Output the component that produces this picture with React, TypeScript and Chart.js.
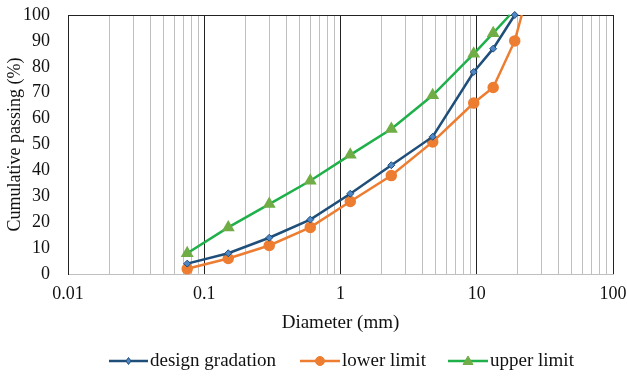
import React, { useEffect, useRef } from "react";
import { Chart, registerables } from "chart.js";

Chart.register(...registerables);

// ---- data ----
const DESIGN_SIZES = [0.075, 0.15, 0.3, 0.6, 1.18, 2.36, 4.75, 9.5, 13.2, 19];
const DESIGN_VALUES = [4, 8, 14, 21, 31, 42, 53, 78, 87, 100];
const LOWER_SIZES = [0.075, 0.15, 0.3, 0.6, 1.18, 2.36, 4.75, 9.5, 13.2, 19, 21.4];
const LOWER_VALUES = [2, 6, 11, 18, 28, 38, 51, 66, 72, 90, 100];
const UPPER_SIZES = [0.075, 0.15, 0.3, 0.6, 1.18, 2.36, 4.75, 9.5, 13.2, 17.5];
const UPPER_VALUES = [8, 18, 27, 36, 46, 56, 69, 85, 93, 100];

const SERIES_NAMES = ["design gradation", "lower limit", "upper limit"];
const MAJOR_TICKS = [0.01, 0.1, 1, 10, 100];
const MAJOR_TICK_LABELS = ["0.01", "0.1", "1", "10", "100"];
const MINOR_MULTIPLIERS = [2, 3, 4, 5, 6, 7, 8, 9];

const FONT = "'Liberation Serif', 'Times New Roman', serif";

const BLUE = "#1f4e79";
const ORANGE = "#ed7d31";
const GREEN = "#1fb04a";

function buildTickValues(): number[] {
  const vals: number[] = [];
  for (let i = 0; i < MAJOR_TICKS.length; i++) {
    vals.push(MAJOR_TICKS[i]);
    if (i < MAJOR_TICKS.length - 1) {
      for (const m of MINOR_MULTIPLIERS) vals.push(parseFloat((MAJOR_TICKS[i] * m).toPrecision(6)));
    }
  }
  return vals;
}

function isMajor(v: number) {
  return MAJOR_TICKS.some((m) => Math.abs(Math.log10(v) - Math.log10(m)) < 1e-6);
}

const legendItems = [
  { x1: 109, x2: 148, tx: 150 },
  { x1: 300, x2: 340, tx: 342 },
  { x1: 448, x2: 488, tx: 490 },
];

const customLegend = {
  id: "customLegend",
  afterDraw(chart: any) {
    const ctx = chart.ctx;
    const y = 361;
    ctx.save();
    chart.data.datasets.forEach((ds: any, i: number) => {
      const it = legendItems[i];
      ctx.strokeStyle = ds.borderColor;
      ctx.lineWidth = 2.5;
      ctx.beginPath();
      ctx.moveTo(it.x1, y);
      ctx.lineTo(it.x2, y);
      ctx.stroke();
      const mx = (it.x1 + it.x2) / 2;
      const r = i === 0 ? 2.5 : i === 1 ? 4.5 : 5;
      ctx.fillStyle = ds.pointBackgroundColor;
      ctx.strokeStyle = ds.pointBorderColor;
      ctx.lineWidth = 1;
      ctx.beginPath();
      if (i === 0) {
        ctx.moveTo(mx, y - r - 1);
        ctx.lineTo(mx + r, y);
        ctx.lineTo(mx, y + r + 1);
        ctx.lineTo(mx - r, y);
        ctx.closePath();
      } else if (i === 1) {
        ctx.arc(mx, y, r, 0, Math.PI * 2);
      } else {
        ctx.moveTo(mx, y - r);
        ctx.lineTo(mx + r, y + r * 0.7);
        ctx.lineTo(mx - r, y + r * 0.7);
        ctx.closePath();
      }
      ctx.fill();
      ctx.stroke();
      ctx.fillStyle = "#111";
      ctx.font = `19px ${FONT}`;
      ctx.textAlign = "left";
      ctx.textBaseline = "middle";
      ctx.fillText(SERIES_NAMES[i], it.tx, y);
    });
    ctx.restore();
  },
};

export default function App() {
  const canvasRef = useRef<HTMLCanvasElement | null>(null);

  useEffect(() => {
    if (!canvasRef.current) return;
    const tickValues = buildTickValues();
    const chart = new Chart(canvasRef.current, {
      type: "line",
      data: {
        datasets: [
          {
            label: SERIES_NAMES[0],
            data: DESIGN_SIZES.map((x, i) => ({ x, y: DESIGN_VALUES[i] })),
            borderColor: BLUE,
            backgroundColor: BLUE,
            borderWidth: 2.5,
            pointStyle: "rectRot",
            pointRadius: 3.5,
            pointBackgroundColor: "#4f86c6",
            pointBorderColor: BLUE,
            pointBorderWidth: 1,
            clip: false,
            tension: 0,
          },
          {
            label: SERIES_NAMES[1],
            data: LOWER_SIZES.map((x, i) => ({ x, y: LOWER_VALUES[i] })),
            borderColor: ORANGE,
            backgroundColor: ORANGE,
            borderWidth: 2.5,
            pointStyle: "circle",
            pointRadius: LOWER_SIZES.map((_, i) => (i === LOWER_SIZES.length - 1 ? 0 : 4.5)),
            pointBackgroundColor: ORANGE,
            pointBorderColor: ORANGE,
            clip: false,
            tension: 0,
          },
          {
            label: SERIES_NAMES[2],
            data: UPPER_SIZES.map((x, i) => ({ x, y: UPPER_VALUES[i] })),
            borderColor: GREEN,
            backgroundColor: GREEN,
            borderWidth: 2.5,
            pointStyle: "triangle",
            pointRadius: UPPER_SIZES.map((_, i) => (i === UPPER_SIZES.length - 1 ? 0 : 5)),
            pointBackgroundColor: "#70ad47",
            pointBorderColor: "#70ad47",
            clip: false,
            tension: 0,
          },
        ],
      },
      options: {
        animation: false,
        responsive: false,
        maintainAspectRatio: false,
        layout: { padding: { left: 0, top: 15, right: 14, bottom: 40 } },
        plugins: {
          legend: { display: false },
          tooltip: { enabled: false },
        },
        scales: {
          x: {
            type: "logarithmic",
            min: 0.01,
            max: 100,
            afterBuildTicks: (scale: any) => {
              scale.ticks = tickValues.map((v) => ({ value: v, major: isMajor(v) }));
            },
            afterFit: (scale: any) => {
              scale.height = 64;
              scale.paddingLeft = 0;
              scale.paddingRight = 0;
              scale.paddingTop = 0;
              scale.paddingBottom = 0;
            },
            ticks: {
              autoSkip: false,
              maxRotation: 0,
              minRotation: 0,
              padding: 9,
              color: "#111",
              font: { family: FONT, size: 18 },
              callback: (value: any) => {
                const v = Number(value);
                const idx = MAJOR_TICKS.findIndex((m) => Math.abs(Math.log10(v) - Math.log10(m)) < 1e-6);
                return idx >= 0 ? MAJOR_TICK_LABELS[idx] : "";
              },
            },
            grid: {
              drawTicks: false,
              lineWidth: 1,
              color: (ctx: any) => (ctx.tick && isMajor(ctx.tick.value) ? "#222" : "#bfbfbf"),
            },
            border: { display: true, color: "#bfbfbf", width: 1 },
            title: {
              display: true,
              text: "Diameter (mm)",
              color: "#111",
              font: { family: FONT, size: 19 },
              padding: { top: 0, bottom: 4 },
            },
          },
          y: {
            type: "linear",
            min: 0,
            max: 100,
            afterFit: (scale: any) => {
              scale.width = 68;
              scale.paddingLeft = 0;
              scale.paddingRight = 0;
              scale.paddingTop = 0;
              scale.paddingBottom = 0;
            },
            ticks: {
              stepSize: 10,
              autoSkip: false,
              padding: 18,
              color: "#111",
              font: { family: FONT, size: 18 },
            },
            grid: {
              drawTicks: false,
              lineWidth: 1,
              color: (ctx: any) => (ctx.tick && ctx.tick.value === 100 ? "#222" : "rgba(0,0,0,0)"),
            },
            border: { display: true, color: "#222", width: 1 },
            title: {
              display: true,
              text: "Cumulative passing (%)",
              color: "#111",
              font: { family: FONT, size: 18 },
              padding: { top: 4, bottom: 0 },
            },
          },
        },
      },
      plugins: [customLegend],
    });
    return () => chart.destroy();
  }, []);

  return (
    <div style={{ position: "fixed", left: 0, top: 0, width: 627, height: 378, background: "#fff" }}>
      <canvas ref={canvasRef} width={627} height={378} style={{ width: 627, height: 378 }} />
    </div>
  );
}
